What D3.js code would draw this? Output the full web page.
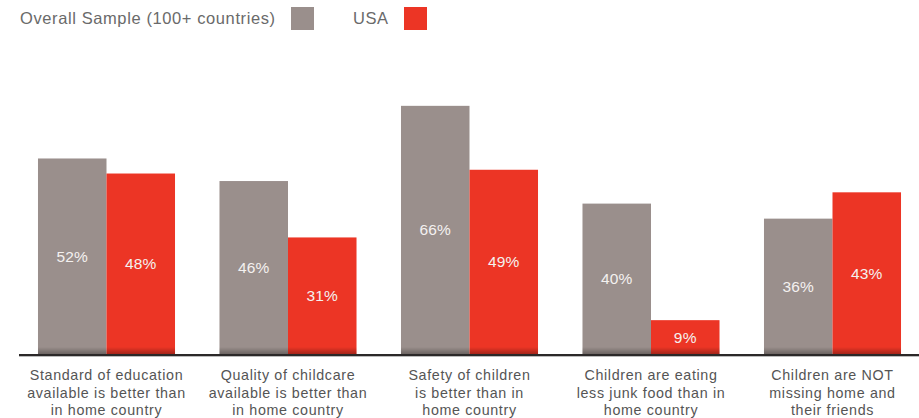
<!doctype html>
<html>
<head>
<meta charset="utf-8">
<script src="https://d3js.org/d3.v7.min.js"></script>
<style>
  body { margin: 0; background: #fff; }
  svg { display: block; }
  text { font-family: 'Liberation Sans', Arial, sans-serif; }
  .legend { font-size: 16.5px; fill: #6a6a6a; letter-spacing: 0.6px; }
  .value { font-size: 15.5px; fill: #f4f1f0; letter-spacing: 0.2px; }
  .cat { font-size: 14.3px; fill: #555; letter-spacing: 0.65px; }
</style>
</head>
<body>
<svg width="919" height="418"></svg>
<script>
const categories = [
  ['Standard of education', 'available is better than', 'in home country'],
  ['Quality of childcare', 'available is better than', 'in home country'],
  ['Safety of children', 'is better than in', 'home country'],
  ['Children are eating', 'less junk food than in', 'home country'],
  ['Children are NOT', 'missing home and', 'their friends']
];
const seriesNames = ['Overall Sample (100+ countries)', 'USA'];
const overall = [52, 46, 66, 40, 36];
const usa = [48, 31, 49, 9, 43];
const colors = ['#9a8f8c', '#ec3525'];

const svg = d3.select('svg');
const baseY = 354;

const x = d3.scaleBand()
  .domain(d3.range(categories.length))
  .range([15.75, 923.25])
  .paddingInner(0.245)
  .paddingOuter(0.1225);

const sub = d3.scaleBand()
  .domain([0, 1])
  .range([0, x.bandwidth()]);

const y = d3.scaleLinear()
  .domain([0, 70])
  .range([baseY, baseY - 70 * 3.76]);

// bottom shading on bars
const defs = svg.append('defs');
const grad = defs.append('linearGradient')
  .attr('id', 'shade').attr('x1', 0).attr('x2', 0).attr('y1', 0).attr('y2', 1);
grad.append('stop').attr('offset', '0%').attr('stop-color', '#000').attr('stop-opacity', 0);
grad.append('stop').attr('offset', '100%').attr('stop-color', '#000').attr('stop-opacity', 0.3);

const series = [overall, usa];
series.forEach((vals, s) => {
  const g = svg.append('g');
  g.selectAll('rect.bar')
    .data(vals)
    .join('rect')
    .attr('class', 'bar')
    .attr('x', (d, i) => x(i) + sub(s))
    .attr('y', d => y(d))
    .attr('width', sub.bandwidth())
    .attr('height', d => y(0) - y(d))
    .attr('fill', colors[s]);

  g.selectAll('rect.shade')
    .data(vals)
    .join('rect')
    .attr('class', 'shade')
    .attr('x', (d, i) => x(i) + sub(s))
    .attr('y', y(0) - 7)
    .attr('width', sub.bandwidth())
    .attr('height', 7)
    .attr('fill', 'url(#shade)');

  g.selectAll('text')
    .data(vals)
    .join('text')
    .attr('class', 'value')
    .attr('x', (d, i) => x(i) + sub(s) + sub.bandwidth() / 2)
    .attr('y', d => (y(d) + y(0)) / 2)
    .attr('dy', '0.35em')
    .attr('text-anchor', 'middle')
    .text(d => d + '%');
});

// baseline
svg.append('line')
  .attr('x1', 19).attr('x2', 919)
  .attr('y1', baseY + 1).attr('y2', baseY + 1)
  .attr('stroke', '#2b2828').attr('stroke-width', 2);
svg.append('line')
  .attr('x1', 19).attr('x2', 919)
  .attr('y1', baseY + 2.5).attr('y2', baseY + 2.5)
  .attr('stroke', '#bbb').attr('stroke-width', 1);

// category labels
const cat = svg.selectAll('text.cat')
  .data(categories)
  .join('text')
  .attr('class', 'cat')
  .attr('text-anchor', 'middle')
  .attr('x', (d, i) => x(i) + x.bandwidth() / 2)
  .attr('y', 380);
cat.selectAll('tspan')
  .data(d => d)
  .join('tspan')
  .attr('x', function () { return d3.select(this.parentNode).attr('x'); })
  .attr('dy', (d, i) => i === 0 ? 0 : 17.5)
  .text(d => d);

// legend
const legend = [
  { name: seriesNames[0], tx: 20, bx: 291, color: colors[0] },
  { name: seriesNames[1], tx: 353, bx: 404, color: colors[1] }
];
legend.forEach(l => {
  svg.append('text')
    .attr('class', 'legend')
    .attr('x', l.tx).attr('y', 24)
    .text(l.name);
  svg.append('rect')
    .attr('x', l.bx).attr('y', 7)
    .attr('width', 23).attr('height', 23)
    .attr('fill', l.color);
});
</script>
</body>
</html>
